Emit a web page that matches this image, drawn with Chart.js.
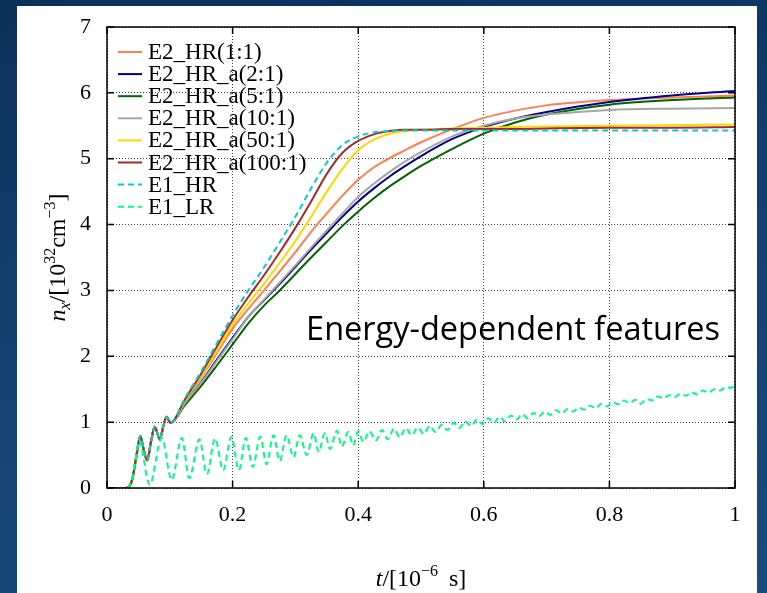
<!DOCTYPE html>
<html>
<head>
<meta charset="utf-8">
<script src="https://cdn.jsdelivr.net/npm/chart.js@4.4.0/dist/chart.umd.min.js"></script>
<style>
html, body { margin: 0; padding: 0; width: 767px; height: 593px; overflow: hidden;
  background: linear-gradient(170deg, #0b3059 0%, #113d6b 35%, #1a4c80 100%); }
#panel { position: absolute; left: 17px; top: 6px; width: 740px; height: 587px; background: #fff; }
</style>
</head>
<body>
<div id="panel"><canvas id="densityGraph" width="740" height="587"></canvas></div>
<script>
// time axis shared by the high resolution runs, t / 1e-6 s
const tHR = [0, 0.03, 0.04, 0.047, 0.053, 0.058, 0.064, 0.07, 0.076, 0.084, 0.09, 0.095, 0.101,
  0.125, 0.15, 0.175, 0.2, 0.225, 0.25, 0.275, 0.3, 0.325, 0.35, 0.375, 0.4, 0.425, 0.45, 0.475, 0.5,
  0.55, 0.6, 0.65, 0.7, 0.8, 0.9, 1.0];

// n_x / 1e32 cm^-3
const nE2_11 = [0, 0, 0.12, 0.5, 0.79, 0.6, 0.42, 0.7, 0.93, 0.74, 0.95, 1.08, 0.99,
  1.33, 1.68, 2.05, 2.42, 2.72, 3.00, 3.29, 3.58, 3.89, 4.17, 4.44, 4.68, 4.87, 5.01, 5.13, 5.25,
  5.45, 5.62, 5.73, 5.81, 5.89, 5.93, 5.96];
const nE2_21 = [0, 0, 0.12, 0.5, 0.79, 0.6, 0.42, 0.7, 0.93, 0.74, 0.95, 1.08, 0.99,
  1.30, 1.61, 1.95, 2.28, 2.60, 2.85, 3.10, 3.36, 3.62, 3.87, 4.12, 4.35, 4.55, 4.73, 4.89, 5.04,
  5.30, 5.48, 5.61, 5.71, 5.86, 5.96, 6.03];
const nE2_51 = [0, 0, 0.12, 0.5, 0.79, 0.6, 0.42, 0.7, 0.93, 0.74, 0.95, 1.08, 0.99,
  1.27, 1.55, 1.86, 2.18, 2.50, 2.77, 3.00, 3.25, 3.50, 3.74, 3.98, 4.20, 4.40, 4.58, 4.74, 4.89,
  5.15, 5.38, 5.55, 5.67, 5.82, 5.89, 5.93];
const nE2_101 = [0, 0, 0.12, 0.5, 0.79, 0.6, 0.42, 0.7, 0.93, 0.74, 0.95, 1.08, 0.99,
  1.30, 1.60, 1.93, 2.26, 2.60, 2.86, 3.12, 3.38, 3.65, 3.91, 4.17, 4.42, 4.62, 4.80, 4.96, 5.10,
  5.34, 5.50, 5.61, 5.67, 5.74, 5.76, 5.77];
const nE2_501 = [0, 0, 0.12, 0.5, 0.79, 0.6, 0.42, 0.7, 0.93, 0.74, 0.95, 1.08, 0.99,
  1.34, 1.70, 2.08, 2.48, 2.80, 3.10, 3.42, 3.75, 4.12, 4.50, 4.85, 5.13, 5.29, 5.38, 5.42, 5.44,
  5.46, 5.47, 5.48, 5.49, 5.50, 5.51, 5.52];
const nE2_1001 = [0, 0, 0.12, 0.5, 0.79, 0.6, 0.42, 0.7, 0.93, 0.74, 0.95, 1.08, 0.99,
  1.36, 1.74, 2.15, 2.55, 2.90, 3.23, 3.58, 3.95, 4.35, 4.77, 5.09, 5.27, 5.37, 5.42, 5.44, 5.44,
  5.45, 5.45, 5.45, 5.46, 5.47, 5.47, 5.48];
const nE1_HR = [0, 0, 0.12, 0.5, 0.79, 0.6, 0.42, 0.7, 0.93, 0.74, 0.95, 1.08, 0.99,
  1.38, 1.77, 2.20, 2.62, 3.00, 3.35, 3.73, 4.12, 4.55, 4.94, 5.21, 5.34, 5.40, 5.42, 5.43, 5.43,
  5.43, 5.43, 5.43, 5.43, 5.43, 5.43, 5.43];

// low resolution run, peaks and troughs of its oscillation
const tLR = [0, 0.03, 0.036, 0.044, 0.051, 0.068, 0.087, 0.103, 0.119, 0.131, 0.147, 0.159, 0.172, 0.185,
  0.198, 0.210, 0.221, 0.232, 0.244, 0.254, 0.265, 0.275, 0.286, 0.297, 0.307, 0.318, 0.329, 0.337,
  0.347, 0.355, 0.366, 0.374, 0.384, 0.392, 0.400, 0.408, 0.418, 0.428, 0.438, 0.447, 0.457, 0.466,
  0.476, 0.485, 0.495, 0.504, 0.514, 0.523, 0.533, 0.542, 0.552, 0.561, 0.570, 0.580, 0.589, 0.598,
  0.607, 0.616, 0.625, 0.634, 0.643, 0.652, 0.661, 0.670, 0.679, 0.688, 0.697, 0.706, 0.715, 0.724,
  0.733, 0.742, 0.751, 0.760, 0.769, 0.778, 0.787, 0.796, 0.805, 0.814, 0.823, 0.832, 0.841, 0.850,
  0.859, 0.868, 0.877, 0.886, 0.895, 0.904, 0.913, 0.922, 0.931, 0.940, 0.949, 0.958, 0.967, 0.976,
  0.985, 0.994, 1.0];
const nLR = [0, 0, 0.03, 0.35, 0.72, 0.05, 0.76, 0.12, 0.76, 0.15, 0.74, 0.21, 0.75, 0.27,
  0.78, 0.27, 0.76, 0.32, 0.78, 0.36, 0.80, 0.41, 0.80, 0.47, 0.80, 0.50, 0.83, 0.55,
  0.83, 0.59, 0.87, 0.63, 0.85, 0.65, 0.86, 0.70, 0.86, 0.72, 0.88, 0.74, 0.90, 0.77,
  0.91, 0.80, 0.92, 0.82, 0.94, 0.85, 0.96, 0.88, 0.99, 0.91, 1.01, 0.94, 1.04, 0.97,
  1.06, 0.99, 1.08, 1.01, 1.10, 1.04, 1.12, 1.06, 1.14, 1.09, 1.16, 1.11, 1.18, 1.13,
  1.20, 1.16, 1.22, 1.19, 1.25, 1.21, 1.28, 1.24, 1.30, 1.27, 1.33, 1.29, 1.34, 1.28,
  1.35, 1.33, 1.39, 1.36, 1.41, 1.38, 1.43, 1.40, 1.45, 1.42, 1.48, 1.45, 1.50, 1.48,
  1.53, 1.52, 1.58];

const labels = ['E2_HR(1:1)', 'E2_HR_a(2:1)', 'E2_HR_a(5:1)', 'E2_HR_a(10:1)', 'E2_HR_a(50:1)',
  'E2_HR_a(100:1)', 'E1_HR', 'E1_LR'];
const colors = ['#ff7f50', '#00008b', '#006400', '#a6a6a6', '#ffd700', '#a52a2a', '#00ced1', '#00ff7f'];
const xTicks = [0, 0.2, 0.4, 0.6, 0.8, 1];
const xTickLabels = ['0', '0.2', '0.4', '0.6', '0.8', '1'];
const yTicks = [0, 1, 2, 3, 4, 5, 6, 7];

const serif = '"Liberation Serif", "DejaVu Serif", serif';

function pairs(ts, ns) {
    return ts.map((t, k) => ({ x: t, y: ns[k] }));
}

const seriesData = [
    pairs(tHR, nE2_11), pairs(tHR, nE2_21), pairs(tHR, nE2_51), pairs(tHR, nE2_101),
    pairs(tHR, nE2_501), pairs(tHR, nE2_1001), pairs(tHR, nE1_HR), pairs(tLR, nLR)
];

let datasets = seriesData.map((points, i) => ({
    label: labels[i],
    data: points,
    borderColor: colors[i],
    backgroundColor: colors[i],
    borderWidth: 2,
    borderDash: i >= 6 ? [6, 4] : [],
    pointRadius: 0,
    cubicInterpolationMode: 'monotone',
    order: labels.length - i
}));

// rich text with italic, sub and superscript pieces
function drawRich(ctx, parts, cx, baseY) {
    const fontOf = p => `${p.it ? 'italic ' : ''}${p.sup || p.sub ? 16 : 24}px ${serif}`;
    let total = 0;
    parts.forEach(p => { ctx.font = fontOf(p); total += ctx.measureText(p.t).width; });
    let x = cx - total / 2;
    ctx.textAlign = 'left';
    ctx.textBaseline = 'alphabetic';
    parts.forEach(p => {
        ctx.font = fontOf(p);
        const dy = p.sup ? -10 : (p.sub ? 5 : 0);
        ctx.fillText(p.t, x, baseY + dy);
        x += ctx.measureText(p.t).width;
    });
}

const decorPlugin = {
    id: 'decor',
    afterDatasetsDraw(chart) {
        const { ctx, chartArea: a, scales: { x, y } } = chart;
        ctx.save();
        ctx.strokeStyle = '#000';
        ctx.lineWidth = 1.5;
        ctx.strokeRect(a.left, a.top, a.right - a.left, a.bottom - a.top);
        ctx.beginPath();
        xTicks.forEach(v => {
            const px = x.getPixelForValue(v);
            ctx.moveTo(px, a.bottom); ctx.lineTo(px, a.bottom - 7);
            ctx.moveTo(px, a.top); ctx.lineTo(px, a.top + 7);
        });
        yTicks.forEach(v => {
            const py = y.getPixelForValue(v);
            ctx.moveTo(a.left, py); ctx.lineTo(a.left + 7, py);
            ctx.moveTo(a.right, py); ctx.lineTo(a.right - 7, py);
        });
        ctx.stroke();

        // legend in the top left corner of the plot
        chart.data.datasets.forEach((ds, i) => {
            const ly = a.top + 25 + i * 22.1;
            ctx.beginPath();
            ctx.setLineDash(ds.borderDash);
            ctx.strokeStyle = ds.borderColor;
            ctx.lineWidth = 2;
            ctx.moveTo(a.left + 11, ly);
            ctx.lineTo(a.left + 35, ly);
            ctx.stroke();
            ctx.setLineDash([]);
            ctx.fillStyle = '#000';
            ctx.font = `23px ${serif}`;
            ctx.textAlign = 'left';
            ctx.textBaseline = 'middle';
            ctx.fillText(ds.label, a.left + 41, ly + 1);
        });

        // annotation
        ctx.fillStyle = '#000';
        ctx.font = '32.5px "Open Sans", "Noto Sans", sans-serif';
        ctx.textAlign = 'left';
        ctx.textBaseline = 'alphabetic';
        ctx.fillText('Energy-dependent features', x.getPixelForValue(0.317), y.getPixelForValue(2.24));

        // axis titles
        ctx.fillStyle = '#000';
        drawRich(ctx, [{ t: 't', it: true }, { t: '/[10' }, { t: '\u22126', sup: true }, { t: '\u2009 s]' }],
            (a.left + a.right) / 2, 580);
        ctx.translate(48, (a.top + a.bottom) / 2);
        ctx.rotate(-Math.PI / 2);
        drawRich(ctx, [{ t: 'n', it: true }, { t: 'x', it: true, sub: true }, { t: '/[10' },
            { t: '32', sup: true }, { t: 'cm' }, { t: '\u22123', sup: true }, { t: ']' }], 0, 0);
        ctx.restore();
    }
};

const config = {
    type: 'line',
    data: { datasets: datasets },
    options: {
        responsive: false,
        animation: false,
        devicePixelRatio: 1,
        layout: { padding: { top: 21, right: 22, left: 0, bottom: 0 } },
        plugins: { legend: { display: false }, tooltip: { enabled: false } },
        scales: {
            x: {
                type: 'linear', min: 0, max: 1,
                afterFit: s => { s.height = 105; s.paddingLeft = 0; s.paddingRight = 0; },
                afterBuildTicks: s => { s.ticks = xTicks.map(v => ({ value: v })); },
                ticks: {
                    color: '#000', padding: 14, maxRotation: 0, font: { family: serif, size: 22 },
                    callback: (v, k) => xTickLabels[k]
                },
                grid: { color: 'rgba(0,0,0,0.75)', lineWidth: 1, drawTicks: false },
                border: { display: false, dash: [1, 2] }
            },
            y: {
                type: 'linear', min: 0, max: 7,
                afterFit: s => { s.width = 90; s.paddingTop = 0; s.paddingBottom = 0; },
                afterBuildTicks: s => { s.ticks = yTicks.map(v => ({ value: v })); },
                ticks: { color: '#000', padding: 16, font: { family: serif, size: 22 } },
                grid: { color: 'rgba(0,0,0,0.75)', lineWidth: 1, drawTicks: false },
                border: { display: false, dash: [1, 2] }
            }
        }
    },
    plugins: [decorPlugin]
};

new Chart(document.getElementById('densityGraph'), config);
</script>
</body>
</html>
